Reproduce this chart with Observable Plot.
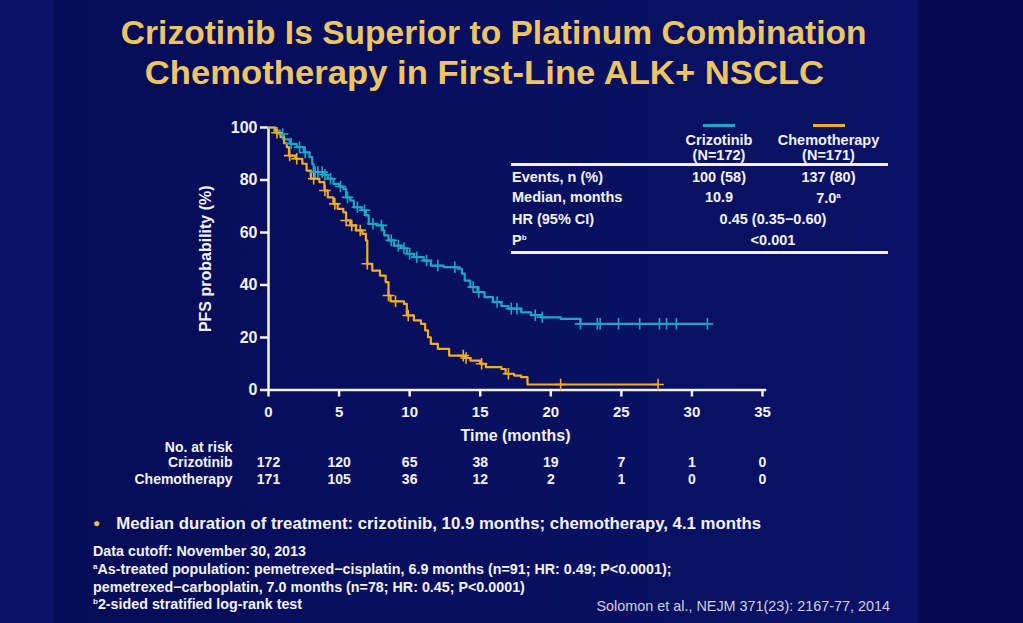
<!DOCTYPE html>
<html><head><meta charset="utf-8">
<script src="https://cdn.jsdelivr.net/npm/d3@7"></script>
<script src="https://cdn.jsdelivr.net/npm/@observablehq/plot@0.6"></script>
<style>
html,body{margin:0;padding:0;}
body{width:1023px;height:623px;overflow:hidden;font-family:"Liberation Sans",Arial,sans-serif;}
#page{position:relative;width:1023px;height:623px;overflow:hidden;
 background:linear-gradient(90deg,#0b1268 0%,#0b1268 5.2%,#060c57 5.4%,#08105f 50%,#0a1267 89.6%,#050a50 90%,#050a50 100%);}
.abs{position:absolute;white-space:nowrap;font-weight:bold;color:#f2f2f6;}
.title{left:0;text-align:center;color:#ecc564;font-size:33px;font-weight:bold;}
.title span{display:inline-block;}
#tbl{position:absolute;left:511px;top:112px;width:377px;font-size:14.5px;color:#f2f2f6;font-weight:bold;}
.cell{position:absolute;white-space:nowrap;transform:translate(-50%,-50%);text-align:center;line-height:15px;}
.lcell{position:absolute;white-space:nowrap;transform:translateY(-50%);}
.hr{position:absolute;left:0;width:377px;height:3px;background:#f2f2f6;}
sup{font-size:8px;vertical-align:5px;}
.foot{font-size:14.3px;}
</style></head>
<body><div id="page">
<div class="abs title" style="top:14px;width:988px;"><span style="transform:scaleX(1.017);">Crizotinib Is Superior to Platinum Combination</span></div>
<div class="abs title" style="top:54px;width:969px;"><span style="transform:scaleX(1.05);">Chemotherapy in First-Line ALK+ NSCLC</span></div>
<div id="chart" style="position:absolute;left:0;top:100px;"></div>
<div id="tbl"></div>
<div class="abs" style="left:93px;top:514px;font-size:16.8px;"><span style="color:#e8c060;font-size:12px;position:relative;top:-2px;">●</span><span style="margin-left:16px;">Median duration of treatment: crizotinib, 10.9 months; chemotherapy, 4.1 months</span></div>
<div class="abs foot" style="left:93px;top:543px;">Data cutoff: November 30, 2013</div>
<div class="abs foot" style="left:93px;top:561px;"><sup>a</sup>As-treated population: pemetrexed−cisplatin, 6.9 months (n=91; HR: 0.49; P&lt;0.0001);</div>
<div class="abs foot" style="left:93px;top:579px;">pemetrexed−carboplatin, 7.0 months (n=78; HR: 0.45; P&lt;0.0001)</div>
<div class="abs foot" style="left:93px;top:596px;"><sup>b</sup>2-sided stratified log-rank test</div>
<div class="abs" style="right:133px;top:598px;font-size:14.4px;font-weight:normal;color:#d0d0dc;">Solomon et al., NEJM 371(23): 2167-77, 2014</div>
</div>
<script>
// ---- data ----
const seriesNames = ["Crizotinib", "Chemotherapy"];
const seriesColors = ["#1ea6c6", "#f2ad2a"];
const crizTime = [0,0.4,0.8,1.1,1.5,2.0,2.5,2.9,3.1,3.2,3.9,4.2,4.6,5.0,5.3,5.5,5.8,6.05,6.6,6.9,7.1,7.7,8.1,8.2,8.5,8.9,9.4,9.8,10.3,11.0,11.5,12.4,13.4,13.7,13.9,14.3,14.8,15.3,15.9,16.5,17.0,17.9,18.6,19.3,20.7,22.1,31.1];
const crizSurv = [100,98.8,97.5,95.5,93.8,92.5,90.5,88.7,86,83,82,80.5,78.5,77.5,76.6,73.4,72.2,69.6,68.5,66.5,63.3,62.7,60.8,58.9,57,55,54,51.9,50.6,49.3,47.4,46.8,46.2,44.3,41.7,39.2,37.3,35.4,33.5,32,31,29.6,28.5,27.7,27.1,25.2,25.2];
const chemoTime = [0,0.5,0.85,1.1,1.3,1.45,1.9,2.4,2.7,3.0,3.6,3.96,4.2,4.6,4.9,5.3,5.5,5.8,6.2,6.65,6.9,7.0,7.35,7.9,8.3,8.5,8.65,9.6,9.8,10.3,10.8,11.1,11.3,11.5,12.0,12.8,13.9,14.3,15.0,15.4,16.5,16.8,17.4,17.9,18.35,27.6];
const chemoSurv = [100,98,96.3,94,92.5,89.3,88.1,86.2,83.6,80.5,79.2,76,73.4,70.9,69,67.7,64.6,62.7,60.8,59.5,57,48.1,45.5,43.6,41.1,36,33.8,32.8,28.4,26.5,25.2,22.7,20.1,17.6,15.7,13.1,12.2,11.2,10.0,8.7,8.0,6.2,5.5,4.9,2.1,2.1];
const crizCensor = [1.0,1.6,2.2,2.6,3.3,3.5,3.8,4.0,4.4,5.1,5.6,6.3,6.8,7.4,8.0,8.7,9.2,9.6,10.0,10.5,11.2,12.0,13.2,14.5,14.9,16.2,17.2,17.6,18.9,19.4,22.1,23.3,23.5,24.8,26.3,27.7,28.2,28.9,31.1];
const chemoCensor = [0.6,1.5,2.0,3.2,4.0,4.7,5.5,5.9,6.5,7.0,8.5,9.0,9.9,13.8,14.0,15.1,17.0,20.7,27.6];
const xTicks = [0,5,10,15,20,25,30,35];
const yTicks = [0,20,40,60,80,100];
const atRiskCriz = [172,120,65,38,19,7,1,0];
const atRiskChemo = [171,105,36,12,2,1,0,0];
const tableHead = ["Crizotinib\n(N=172)", "Chemotherapy\n(N=171)"];
const tableRows = [["Events, n (%)","100 (58)","137 (80)"],["Median, months","10.9","7.0"],["HR (95% CI)","0.45 (0.35−0.60)"],["P","<0.001"]];

// ---- build ----
function curve(times, surv, name){ return times.map((t,i)=>({t, s:surv[i], name})); }
function survAt(times, surv, t){ let v=surv[0]; for(let i=0;i<times.length;i++){ if(times[i]<=t) v=surv[i]; } return v; }
const lines = [...curve(crizTime,crizSurv,seriesNames[0]), ...curve(chemoTime,chemoSurv,seriesNames[1])];
const censors = [...crizCensor.map(t=>({t,s:survAt(crizTime,crizSurv,t),name:seriesNames[0]})),
                 ...chemoCensor.map(t=>({t,s:survAt(chemoTime,chemoSurv,t),name:seriesNames[1]}))];
const white = "#f2f2f6";
const chart = Plot.plot({
  width:1023, height:400,
  marginLeft:268, marginRight:261, marginTop:27, marginBottom:110.5,
  style:{background:"transparent", color:white, fontFamily:"'Liberation Sans',Arial,sans-serif", fontWeight:"bold", fontSize:"15px", overflow:"visible"},
  x:{domain:[0,35]},
  y:{domain:[0,100]},
  color:{domain:seriesNames, range:seriesColors},
  marks:[
    Plot.axisY(yTicks,{tickSize:8, tickPadding:3, stroke:white, strokeWidth:2.5, fontSize:16, fontWeight:"bold", label:"PFS probability (%)", labelAnchor:"center", labelArrow:"none", labelOffset:69}),
    Plot.axisX(xTicks,{tickSize:7, tickPadding:9, stroke:white, strokeWidth:2.5, fontSize:15, fontWeight:"bold", label:null}),
    Plot.ruleX([0],{stroke:white, strokeWidth:2.5}),
    Plot.ruleY([0],{stroke:white, strokeWidth:2.5, x1:0, x2:35.3}),
    Plot.line(lines,{x:"t", y:"s", z:"name", stroke:"name", curve:"step-after", strokeWidth:2.2}),
    Plot.dot(censors,{x:"t", y:"s", stroke:"name", symbol:"plus", r:3.8, strokeWidth:1.6}),
    Plot.text(["Time (months)"],{frameAnchor:"bottom", x:17.5, dy:50.5, fontSize:16, fontWeight:"bold", fill:white}),
    Plot.text(["No. at risk"],{frameAnchor:"bottom-left", dx:-36, dy:61.5, textAnchor:"end", fontSize:14, fill:white}),
    Plot.text([seriesNames[0]],{frameAnchor:"bottom-left", dx:-36, dy:76.5, textAnchor:"end", fontSize:14, fill:white}),
    Plot.text([seriesNames[1]],{frameAnchor:"bottom-left", dx:-36, dy:93.5, textAnchor:"end", fontSize:14, fill:white}),
    Plot.text(atRiskCriz,{x:(d,i)=>xTicks[i], text:d=>d, frameAnchor:"bottom", dy:76.5, fontSize:14, fill:white}),
    Plot.text(atRiskChemo,{x:(d,i)=>xTicks[i], text:d=>d, frameAnchor:"bottom", dy:93.5, fontSize:14, fill:white})
  ]
});
document.getElementById("chart").appendChild(chart);

// table
const tbl = document.getElementById("tbl");
const colX = [208, 317.5, 262];
function add(cls, html, left, top){ const d=document.createElement("div"); d.className=cls; d.innerHTML=html; d.style.left=left+"px"; d.style.top=top+"px"; tbl.appendChild(d); return d; }
seriesColors.forEach((c,i)=>{ const s=document.createElement("div"); s.style.cssText=`position:absolute;left:${colX[i]-16}px;top:12px;width:32px;height:3px;background:${c};`; tbl.appendChild(s); });
tableHead.forEach((h,i)=> add("cell", h.replace("\n","<br>"), colX[i], 36));
add("hr","",0,51);
const rowY=[65,85,107,128];
tableRows.forEach((r,ri)=>{
  add("lcell", r[0] + (ri===3?"<sup>b</sup>":""), 1, rowY[ri]);
  if(r.length===3){ add("cell", r[1], colX[0], rowY[ri]); add("cell", r[2] + (ri===1?"<sup>a</sup>":""), colX[1], rowY[ri]); }
  else add("cell", r[1].replace("<","&lt;"), colX[2], rowY[ri]);
});
add("hr","",0,139);
</script>
</body></html>
